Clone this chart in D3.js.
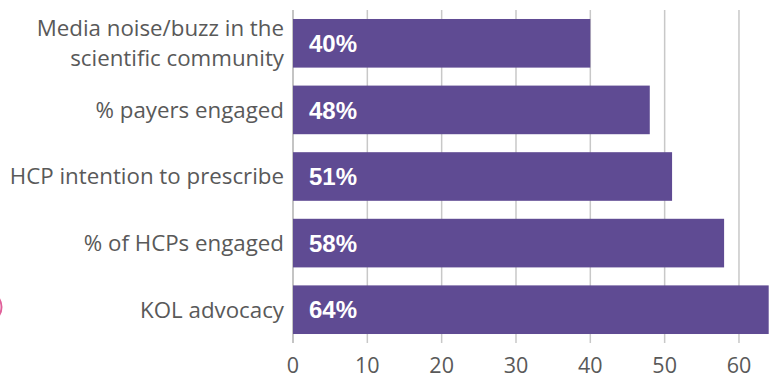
<!DOCTYPE html>
<html><head><meta charset="utf-8">
<script src="https://cdn.jsdelivr.net/npm/d3@7"></script>
<style>body{margin:0;background:#fff}svg{display:block}</style>
</head><body>
<svg id="c" width="776" height="379"></svg>
<script>
const categories = [["Media noise/buzz in the","scientific community"],["% payers engaged"],["HCP intention to prescribe"],["% of HCPs engaged"],["KOL advocacy"]];
const values = [40, 48, 51, 58, 64];
const valueLabels = ["40%","48%","51%","58%","64%"];
const ticks = [0,10,20,30,40,50,60];

const svg = d3.select("#c");
const x = d3.scaleLinear().domain([0,64]).range([293, 768.7]);
const y = d3.scaleBand().domain(d3.range(values.length)).range([10,343]).paddingInner(0.27).paddingOuter(0.135);

// gridlines
svg.append("g").selectAll("line").data(ticks).join("line")
  .attr("x1", d=>x(d)).attr("x2", d=>x(d)).attr("y1", 10).attr("y2", 343)
  .attr("stroke", d=> d===0 ? "#b0b0b0" : "#c8c8c8").attr("stroke-width", 1.5);

// bars
svg.append("g").selectAll("rect").data(values).join("rect")
  .attr("x", x(0)).attr("y", (d,i)=>y(i)).attr("width", d=>x(d)-x(0)).attr("height", y.bandwidth())
  .attr("fill", "#5f4b93");

// value labels
svg.append("g").selectAll("text").data(valueLabels).join("text")
  .attr("x", x(0)+16).attr("y", (d,i)=>y(i)+y.bandwidth()/2).attr("dy","0.36em")
  .attr("font-family","Liberation Sans, Arial, sans-serif").attr("font-weight","bold")
  .attr("font-size", 24).attr("fill","#fff").text(d=>d);

// category labels
const cg = svg.append("g");
categories.forEach((lines,i)=>{
  const cy = y(i)+y.bandwidth()/2;
  const t = cg.append("text").attr("text-anchor","end")
    .attr("font-family","Open Sans, sans-serif").attr("font-size",22.3).attr("fill","#595959");
  lines.forEach((ln,j)=>{
    t.append("tspan").attr("x", 284).attr("y", cy + (j-(lines.length-1)/2)*30).attr("dy","0.35em").text(ln);
  });
});

// x tick labels
svg.append("g").selectAll("text").data(ticks).join("text")
  .attr("x", d=>x(d)).attr("y", 373).attr("text-anchor","middle")
  .attr("font-family","Open Sans, sans-serif").attr("font-size",21.5).attr("fill","#595959")
  .text(d=>d);

// decorative pink arc at left edge
svg.append("circle").attr("cx",-14).attr("cy",307).attr("r",15.5)
  .attr("fill","none").attr("stroke","#e0609a").attr("stroke-width",2);
</script>
</body></html>
